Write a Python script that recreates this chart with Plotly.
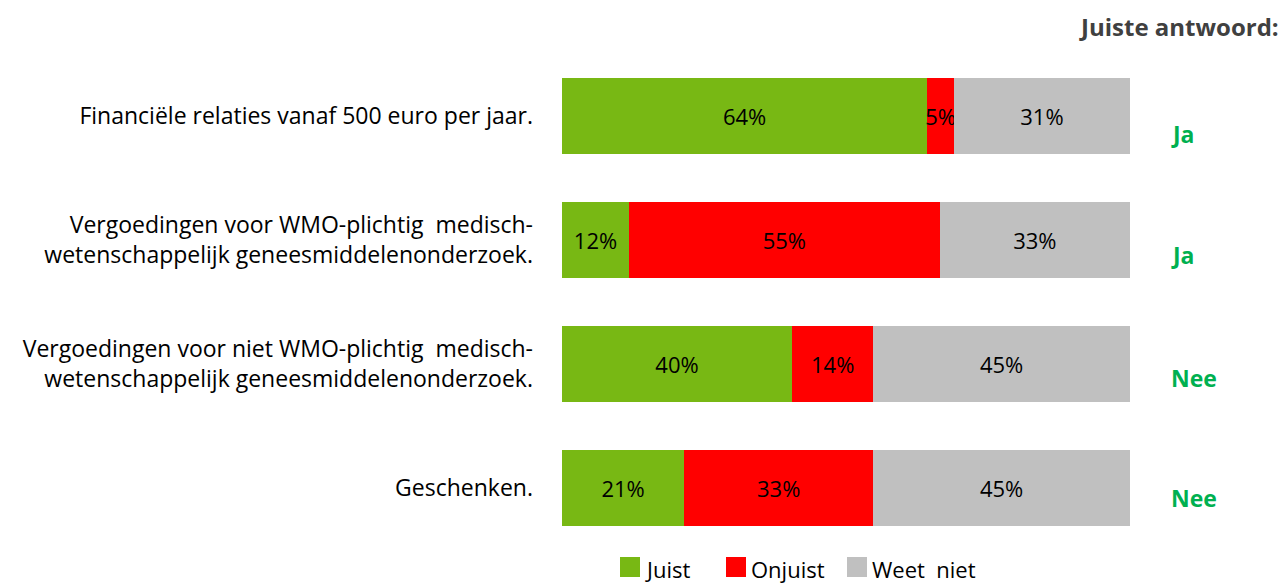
import plotly.graph_objects as go

categories = [
    "Financiële relaties vanaf 500 euro per jaar.",
    "Vergoedingen voor WMO-plichtig  medisch-<br>wetenschappelijk geneesmiddelenonderzoek.",
    "Vergoedingen voor niet WMO-plichtig  medisch-<br>wetenschappelijk geneesmiddelenonderzoek.",
    "Geschenken.",
]
juist = [64.3, 11.8, 40.5, 21.5]
onjuist = [4.7, 54.7, 14.3, 33.3]
weet_niet = [31.0, 33.5, 45.2, 45.2]
juist_lbl = ["64%", "12%", "40%", "21%"]
onjuist_lbl = ["5%", "55%", "14%", "33%"]
weet_lbl = ["31%", "33%", "45%", "45%"]
answers = ["Ja", "Ja", "Nee", "Nee"]
series_names = ["Juist", "Onjuist", "Weet  niet"]
colors = ["#78B814", "#FF0000", "#C0C0C0"]

FONT = "Open Sans"
W, H = 1283, 583
L, R, T, B = 562, 153, 54, 33
PW, PH = W - L - R, H - T - B


def px_x(px):
    return (px - L) / PW


def px_y(py):
    return (H - B - py) / PH


fig = go.Figure()
for name, vals, lbls, col in zip(series_names, [juist, onjuist, weet_niet],
                                 [juist_lbl, onjuist_lbl, weet_lbl], colors):
    fig.add_trace(go.Bar(
        y=categories, x=vals, name=name, orientation="h",
        marker=dict(color=col, line=dict(width=0)),
        text=lbls, textposition="inside", insidetextanchor="middle",
        textangle=0, textfont=dict(size=22, color="black", family=FONT),
        width=0.605, hoverinfo="skip", showlegend=False,
    ))

ans_shift = [-18, -15, -14, -10]
for cat, a, s in zip(categories, answers, ans_shift):
    fig.add_annotation(x=px_x(1169), y=cat, xref="paper", yref="y", text=f"<b>{a}</b>",
                       showarrow=False, xanchor="left", yshift=s,
                       font=dict(size=23, color="#00B050", family=FONT))

fig.add_annotation(x=px_x(1281), y=px_y(26), xref="paper", yref="paper",
                   text="<b>Juiste antwoord:</b>", showarrow=False,
                   xanchor="right", yanchor="middle",
                   font=dict(size=24, color="#404040", family=FONT))

# legend drawn as squares + labels
leg_sq = [620, 726, 847]
for name, col, sx in zip(series_names, colors, leg_sq):
    fig.add_shape(type="rect", xref="paper", yref="paper",
                  x0=px_x(sx), x1=px_x(sx + 20), y0=px_y(577), y1=px_y(557),
                  fillcolor=col, line=dict(width=0))
    fig.add_annotation(x=px_x(sx + 23), y=px_y(569), xref="paper", yref="paper",
                       text=name, showarrow=False, xanchor="left", yanchor="middle",
                       font=dict(size=22, color="black", family=FONT))

fig.update_layout(
    barmode="stack", width=W, height=H,
    margin=dict(l=L, r=R, t=T, b=B, autoexpand=False),
    plot_bgcolor="white", paper_bgcolor="white",
    font=dict(family=FONT, size=22, color="black"),
    uniformtext=dict(minsize=22, mode="show"),
    showlegend=False,
    xaxis=dict(range=[0, 100], visible=False, fixedrange=True),
    yaxis=dict(autorange="reversed", showgrid=False, zeroline=False, showline=False,
               ticks="", ticklabelstandoff=28, tickfont=dict(size=23, family=FONT)),
)
fig.write_html("out.html", config={"displayModeBar": False},
               post_script="document.body.style.margin='0';")
